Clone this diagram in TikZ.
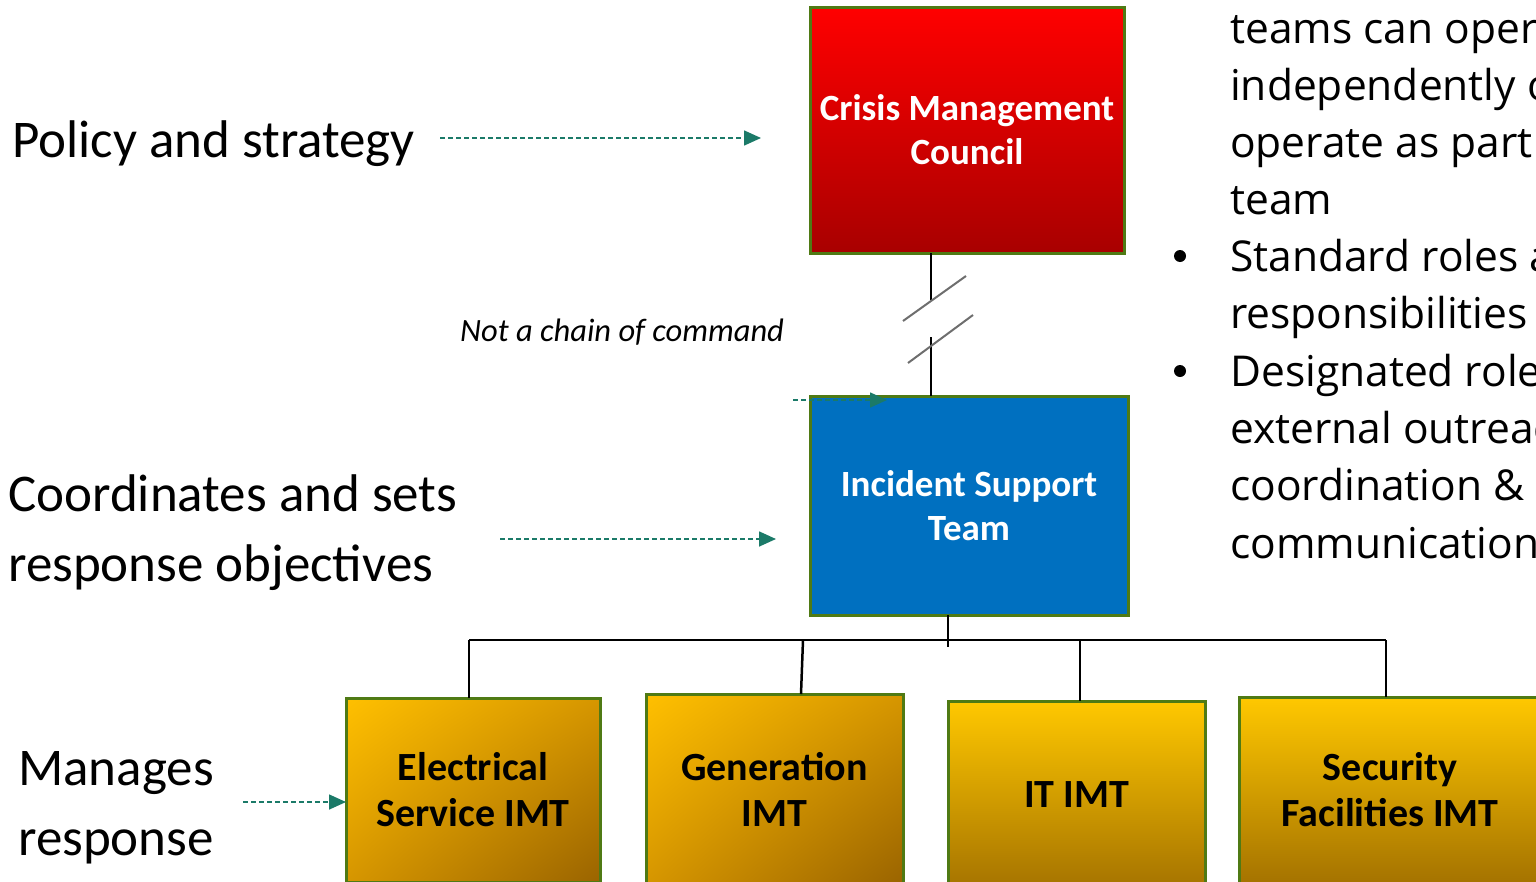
\documentclass[tikz,border=0pt]{standalone}
\usepackage{fontspec}
\setmainfont{Carlito}
\newfontfamily\bulletfont{Open Sans}
\usetikzlibrary{arrows.meta,shadings}
\definecolor{boxgreen}{HTML}{4F7A14}
\definecolor{teal}{HTML}{1B7A68}
\definecolor{cmcbot}{HTML}{A80000}
\definecolor{istblue}{HTML}{0070C0}
\definecolor{goldA}{HTML}{FFC000}
\definecolor{goldB}{HTML}{D69600}
\definecolor{goldC}{HTML}{9A6400}
\definecolor{goldT}{HTML}{FFC800}
\definecolor{goldD}{HTML}{A57300}
\definecolor{breakgray}{HTML}{6E6E6E}
\tikzset{
  orgbox/.style={draw=boxgreen, line width=3pt, rectangle, inner sep=0pt, outer sep=0pt,
    anchor=north west, align=center},
  whitelbl/.style={text=white, font=\fontsize{37}{44}\selectfont\bfseries},
  blacklbl/.style={text=black, font=\fontsize{40}{46}\selectfont\bfseries},
  diaggold/.style={upper left=goldA, upper right=goldB, lower left=goldB, lower right=goldC},
  vertgold/.style={top color=goldT, bottom color=goldD},
  sidelbl/.style={anchor=base west, align=left, inner sep=0pt, font=\fontsize{53}{70}\selectfont},
  dasharrow/.style={draw=teal, line width=1.6pt, dash pattern=on 5pt off 3pt,
    -{Triangle[length=17pt,width=15pt,fill=teal]}},
  conn/.style={draw=black, line width=2.5pt},
  bulletline/.style={anchor=base west, inner sep=0pt, font=\bulletfont\fontsize{42.5}{57}\selectfont},
}
\begin{document}
\begin{tikzpicture}[x=1pt,y=-1pt]
\useasboundingbox (0,0) rectangle (1536,881);
\clip (0,0) rectangle (1536,881);

% boxes
\node[orgbox, whitelbl, top color=red, bottom color=cmcbot, minimum width=314pt, minimum height=246pt]
  (cmc) at (810,7) {Crisis Management\\Council};
\node[orgbox, whitelbl, fill=istblue, minimum width=318pt, minimum height=219pt]
  (ist) at (810,396) {Incident Support\\Team};
\node[orgbox, blacklbl, diaggold, minimum width=254pt, minimum height=184pt]
  (elec) at (346,698) {Electrical\\Service IMT};
\node[orgbox, blacklbl, diaggold, minimum width=257pt, minimum height=190pt]
  (gen) at (646,694) {Generation\\IMT};
\node[orgbox, blacklbl, vertgold, minimum width=257pt, minimum height=188pt]
  (it) at (948,701) {IT IMT};
\node[orgbox, blacklbl, vertgold, minimum width=302pt, minimum height=186pt]
  (sec) at (1239,697) {Security\\Facilities IMT};

% side labels
\node[sidelbl] (policy) at (12,157) {Policy and strategy};
\node[sidelbl] (coord) at (8,581) {Coordinates and sets\\response objectives};
\node[sidelbl] (manage) at (18,855) {Manages\\response};
\node[anchor=base west, inner sep=0pt, font=\fontsize{32.5}{36}\selectfont\itshape] (notchain) at (460,341) {Not a chain of command};

% dashed arrows
\coordinate (a1s) at (440,138); \coordinate (a1e) at (761,138);
\coordinate (a2s) at (500,539); \coordinate (a2e) at (776,539);
\coordinate (a3s) at (243,802);
\coordinate (a4s) at (793,400); \coordinate (a4e) at (887,400);
\draw[dasharrow] (a1s) -- (a1e);
\draw[dasharrow] (a2s) -- (a2e);
\draw[dasharrow] (a3s) -- (a3s -| elec.west);
\draw[dasharrow] (a4s) -- (a4e);

% broken link CMC - IST
\coordinate (b1) at (931,300); \coordinate (b2) at (931,337);
\draw[conn] (cmc.south -| b1) -- (b1);
\draw[conn] (b2) -- (ist.north -| b2);
\draw[breakgray, line width=2pt] (903,321) -- (966,276);
\draw[breakgray, line width=2pt] (908,363) -- (973,315);

% tree
\coordinate (bus) at (948,640);
\draw[conn] (ist.south -| bus) -- ++(0,32);
\draw[conn] (469,640) -- (1386,640);
\draw[conn] (469,640) -- (elec.north -| 469,0);
\draw[conn] (803,640) -- (801,694);
\draw[conn] (1080,640) -- (it.north -| 1080,0);
\draw[conn] (1386,640) -- (sec.north -| 1386,0);

% bullet text
\node[bulletline] (t1) at (1230,43) {teams can oper};
\node[bulletline] (t2) at (1230,100) {independently o};
\node[bulletline] (t3) at (1230,157) {operate as part};
\node[bulletline] (t4) at (1230,214) {team};
\node[bulletline] (t5) at (1230,271) {Standard roles a};
\node[bulletline] (t6) at (1230,328) {responsibilities};
\node[bulletline] (t7) at (1230,386) {Designated role};
\node[bulletline] (t8) at (1230,443) {external outreac};
\node[bulletline] (t9) at (1230,500) {coordination \&};
\node[bulletline] (t10) at (1230,558) {communication};
\fill[black] (1180,256) circle (6pt);
\fill[black] (1180,371) circle (6pt);
\end{tikzpicture}
\end{document}
